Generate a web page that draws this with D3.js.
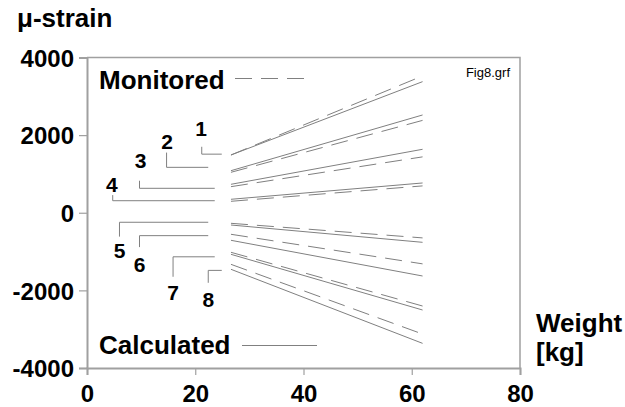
<!DOCTYPE html>
<html>
<head>
<meta charset="utf-8">
<script src="https://cdn.jsdelivr.net/npm/d3@7"></script>
<style>
  body { margin: 0; background: #fff; }
  text { font-family: "Liberation Sans", Arial, sans-serif; }
</style>
</head>
<body>
<div id="chart"></div>
<script>
// weights where each line starts and ends [kg]
var weights = [26.6, 62];

// calculated strains (solid), one pair [start, end] per gauge 1..8
var calculated = [
  [1488, 3378],
  [1084, 2519],
  [733, 1635],
  [347, 767],
  [-316, -762],
  [-710, -1630],
  [-1071, -2506],
  [-1457, -3365]
];

// monitored strains (dashed)
var monitored = [
  [1488, 3525],
  [1042, 2380],
  [672, 1440],
  [295, 692],
  [-272, -648],
  [-555, -1317],
  [-1019, -2403],
  [-1329, -3125]
];

var gaugeNames = ["1", "2", "3", "4", "5", "6", "7", "8"];
var xTicks = [0, 20, 40, 60, 80];
var yTicks = [4000, 2000, 0, -2000, -4000];

// label text anchor and leader line, in data units
var labelPos = [
  [21.1, 1980], [14.8, 1635], [9.9, 1145], [4.6, 545],
  [6.0, -1175], [9.7, -1535], [15.9, -2250], [22.4, -2420]
];
var leaders = [
  [[21.2, 1700], [21.2, 1510], [24.9, 1510]],
  [[14.7, 1550], [14.7, 1170], [22.4, 1170]],
  [[9.7, 825], [9.7, 630], [23.6, 630]],
  [[4.75, 455], [4.75, 310], [23.6, 310]],
  [[6.0, -615], [6.0, -245], [22.4, -245]],
  [[9.7, -885], [9.7, -590], [22.4, -590]],
  [[15.9, -1650], [15.9, -1135], [23.6, -1135]],
  [[22.4, -1805], [22.4, -1485], [24.9, -1485]]
];

var margin = { top: 57.5, right: 105, bottom: 39, left: 87 },
    width = 625 - margin.left - margin.right,
    height = 407 - margin.top - margin.bottom;

var svg = d3.select("#chart")
    .append("svg")
    .attr("width", 625)
    .attr("height", 407);

var g = svg.append("g")
    .attr("transform", "translate(" + margin.left + "," + margin.top + ")");

var x = d3.scaleLinear().domain([0, 80]).range([0, width]);
var y = d3.scaleLinear().domain([-4000, 4000]).range([height, 0]);

var axisColor = "#a0a0a0";
var lineColor = "#808080";
var plain = function (d) { return String(d); };

// frame top and right
g.append("path")
    .attr("d", "M0,0H" + width + "V" + height)
    .attr("fill", "none")
    .attr("stroke", axisColor)
    .attr("stroke-width", 1.5);

// axes
var xAxis = g.append("g")
    .attr("transform", "translate(0," + height + ")")
    .call(d3.axisBottom(x).tickValues(xTicks).tickFormat(plain).tickSize(7).tickPadding(10));
var yAxis = g.append("g")
    .call(d3.axisLeft(y).tickValues(yTicks).tickFormat(plain).tickSize(8).tickPadding(5));

[xAxis, yAxis].forEach(function (a) {
  a.select(".domain").attr("stroke", axisColor).attr("stroke-width", 2);
  a.selectAll(".tick line").attr("stroke", axisColor).attr("stroke-width", 1.2);
  a.selectAll(".tick text")
      .attr("fill", "#000")
      .style("font-size", "24px")
      .style("font-weight", "bold")
      .style("font-family", "Liberation Sans, Arial, sans-serif");
});
yAxis.selectAll(".tick text").attr("dy", "0.36em");
xAxis.selectAll(".tick text").attr("dy", "0.72em");

var line = d3.line()
    .x(function (d, i) { return x(weights[i]); })
    .y(function (d) { return y(d); });

g.selectAll(".calc")
    .data(calculated)
    .enter()
    .append("path")
    .attr("class", "calc")
    .attr("d", line)
    .attr("fill", "none")
    .attr("stroke", lineColor)
    .attr("stroke-width", 1);

g.selectAll(".mon")
    .data(monitored)
    .enter()
    .append("path")
    .attr("class", "mon")
    .attr("d", line)
    .attr("fill", "none")
    .attr("stroke", lineColor)
    .attr("stroke-width", 1)
    .attr("stroke-dasharray", "17,9");

// gauge labels with leader lines
var leaderLine = d3.line()
    .x(function (d) { return x(d[0]); })
    .y(function (d) { return y(d[1]); });

g.selectAll(".leader")
    .data(leaders)
    .enter()
    .append("path")
    .attr("class", "leader")
    .attr("d", leaderLine)
    .attr("fill", "none")
    .attr("stroke", lineColor)
    .attr("stroke-width", 1);

g.selectAll(".gauge")
    .data(gaugeNames)
    .enter()
    .append("text")
    .attr("class", "gauge")
    .attr("x", function (d, i) { return x(labelPos[i][0]); })
    .attr("y", function (d, i) { return y(labelPos[i][1]); })
    .attr("text-anchor", "middle")
    .style("font-size", "21px")
    .style("font-weight", "bold")
    .text(function (d) { return d; });

// legend
g.append("text")
    .attr("x", 12).attr("y", 31)
    .style("font-size", "26px").style("font-weight", "bold")
    .text("Monitored");
g.append("line")
    .attr("x1", 148).attr("x2", 220).attr("y1", 21).attr("y2", 21)
    .attr("stroke", lineColor).attr("stroke-dasharray", "17,9");

g.append("text")
    .attr("x", 12).attr("y", 296.5)
    .style("font-size", "26px").style("font-weight", "bold")
    .text("Calculated");
g.append("line")
    .attr("x1", 155).attr("x2", 230).attr("y1", 288).attr("y2", 288)
    .attr("stroke", lineColor);

g.append("text")
    .attr("x", width - 10).attr("y", 19)
    .attr("text-anchor", "end")
    .style("font-size", "13px")
    .text("Fig8.grf");

// axis titles
svg.append("text")
    .attr("x", 17).attr("y", 27)
    .style("font-size", "26px").style("font-weight", "bold")
    .text("\u03bc-strain");

var wt = svg.append("text")
    .attr("x", 536).attr("y", 332)
    .style("font-size", "26px").style("font-weight", "bold");
wt.append("tspan").attr("x", 536).text("Weight");
wt.append("tspan").attr("x", 536).attr("y", 361).text("[kg]");
</script>
</body>
</html>
